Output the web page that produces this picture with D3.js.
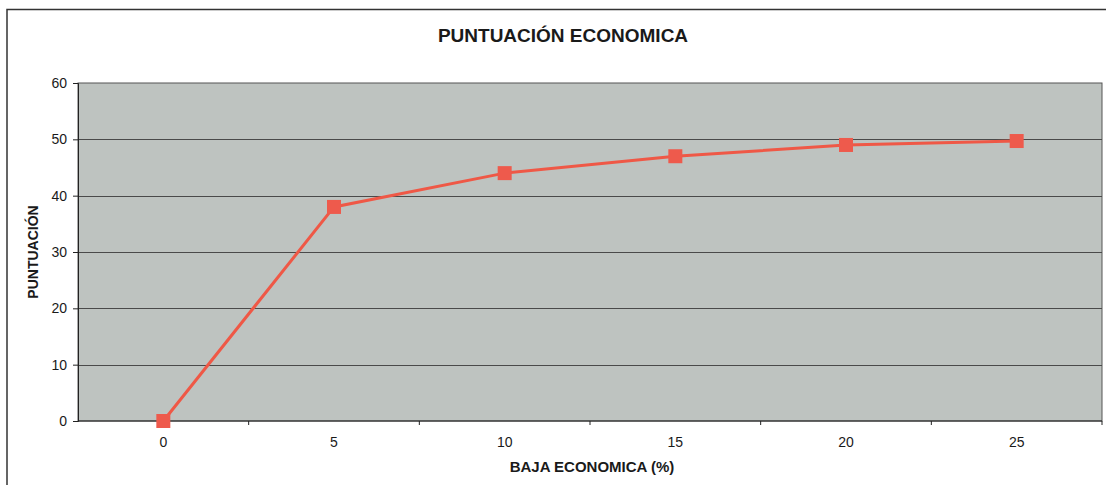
<!DOCTYPE html>
<html>
<head>
<meta charset="utf-8">
<script src="https://cdn.jsdelivr.net/npm/d3@7"></script>
<style>
  body { margin: 0; background: #fff; }
  svg text { font-family: "Liberation Sans", Arial, sans-serif; fill: #1a1a1a; }
</style>
</head>
<body>
<svg id="chart" width="1106" height="485"></svg>
<script>
// data
var categories = ["0", "5", "10", "15", "20", "25"];
var puntuacion = [0, 38, 44, 47, 49, 49.7];
var yTicks = [0, 10, 20, 30, 40, 50, 60];

var svg = d3.select("#chart");

var margin = { left: 78, right: 4, top: 83, bottom: 64 };
var width = 1106, height = 485;

// outer chart frame
svg.append("rect")
  .attr("x", 7).attr("y", 9.5)
  .attr("width", 1110).attr("height", 500)
  .attr("fill", "none")
  .attr("stroke", "#333")
  .attr("stroke-width", 1.5);

var x = d3.scaleBand()
  .domain(categories)
  .range([margin.left, width - margin.right]);

var y = d3.scaleLinear()
  .domain([0, 60])
  .range([height - margin.bottom, margin.top]);

// plot area
svg.append("rect")
  .attr("x", margin.left).attr("y", y(60))
  .attr("width", x.range()[1] - margin.left)
  .attr("height", y(0) - y(60))
  .attr("fill", "#bec3c0")
  .attr("stroke", "#555")
  .attr("stroke-width", 1);

// gridlines
svg.append("g").selectAll("line")
  .data(yTicks.filter(d => d > 0 && d < 60))
  .enter().append("line")
  .attr("x1", margin.left).attr("x2", x.range()[1])
  .attr("y1", d => Math.round(y(d)) + 0.5).attr("y2", d => Math.round(y(d)) + 0.5)
  .attr("stroke", "#4a4a4a")
  .attr("stroke-width", 1);

// y axis
var yAxis = svg.append("g")
  .attr("transform", "translate(" + margin.left + ",0)")
  .call(d3.axisLeft(y).tickValues(yTicks).tickSize(5).tickPadding(6));
yAxis.select(".domain").attr("stroke", "#222");
yAxis.selectAll(".tick line").attr("stroke", "#222");
yAxis.selectAll("text").style("font-size", "14px").attr("fill", "#1a1a1a");

// x axis: ticks sit between categories
var xAxis = svg.append("g")
  .attr("transform", "translate(0," + y(0) + ")");
xAxis.append("line")
  .attr("x1", margin.left).attr("x2", x.range()[1])
  .attr("stroke", "#222").attr("stroke-width", 1.2);
xAxis.selectAll(".xtick")
  .data(categories)
  .enter().append("line")
  .attr("class", "xtick")
  .attr("x1", d => x(d) + x.bandwidth()).attr("x2", d => x(d) + x.bandwidth())
  .attr("y1", 0).attr("y2", 4)
  .attr("stroke", "#222");
xAxis.selectAll(".xlabel")
  .data(categories)
  .enter().append("text")
  .attr("class", "xlabel")
  .attr("x", d => x(d) + x.bandwidth() / 2)
  .attr("y", 26)
  .attr("text-anchor", "middle")
  .style("font-size", "14px")
  .text(d => d);

// line + markers
var line = d3.line()
  .x((d, i) => x(categories[i]) + x.bandwidth() / 2)
  .y(d => y(d));

svg.append("path")
  .datum(puntuacion)
  .attr("d", line)
  .attr("fill", "none")
  .attr("stroke", "#ef5846")
  .attr("stroke-width", 3);

svg.append("g").selectAll("rect")
  .data(puntuacion)
  .enter().append("rect")
  .attr("x", (d, i) => x(categories[i]) + x.bandwidth() / 2 - 7)
  .attr("y", d => y(d) - 7)
  .attr("width", 14).attr("height", 14)
  .attr("fill", "#ee5a4c");

// titles
svg.append("text")
  .attr("x", 563).attr("y", 42)
  .attr("text-anchor", "middle")
  .style("font-size", "19px").style("font-weight", "bold")
  .text("PUNTUACIÓN ECONOMICA");

svg.append("text")
  .attr("x", 592).attr("y", 472)
  .attr("text-anchor", "middle")
  .style("font-size", "15px").style("font-weight", "bold")
  .text("BAJA ECONOMICA (%)");

svg.append("text")
  .attr("transform", "translate(38," + (y(30)) + ") rotate(-90)")
  .attr("text-anchor", "middle")
  .style("font-size", "14px").style("font-weight", "bold")
  .text("PUNTUACIÓN");
</script>
</body>
</html>
